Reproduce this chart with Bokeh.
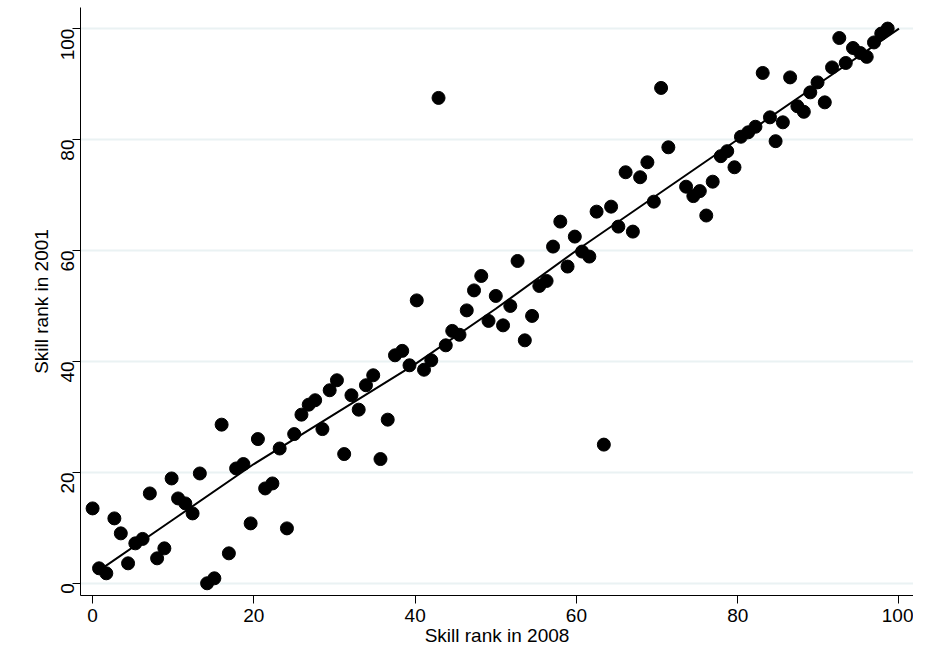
from bokeh.plotting import figure
from bokeh.models import Range1d, FixedTicker
from bokeh.embed import file_html
from bokeh.resources import INLINE
import math

rank_2008 = [0, 0.8, 1.7, 2.7, 3.5, 4.4, 5.3, 6.2, 7.1, 8, 8.9, 9.8, 10.6, 11.5, 12.4, 13.3,
             14.2, 15.1, 16, 16.9, 17.8, 18.7, 19.6, 20.5, 21.4, 22.3, 23.2, 24.1, 25, 25.9,
             26.8, 27.6, 28.5, 29.4, 30.3, 31.2, 32.1, 33, 33.9, 34.8, 35.7, 36.6, 37.5, 38.4,
             39.3, 40.2, 41.1, 42, 42.9, 43.8, 44.6, 45.5, 46.4, 47.3, 48.2, 49.1, 50, 50.9,
             51.8, 52.7, 53.6, 54.5, 55.4, 56.3, 57.1, 58, 58.9, 59.8, 60.7, 61.6, 62.5, 63.4,
             64.3, 65.2, 66.1, 67, 67.9, 68.8, 69.6, 70.5, 71.4, 73.6, 74.5, 75.3, 76.1, 76.9,
             77.9, 78.7, 79.6, 80.4, 81.3, 82.2, 83.1, 84, 84.7, 85.6, 86.5, 87.4, 88.2, 89,
             89.9, 90.8, 91.7, 92.6, 93.4, 94.3, 95.2, 96, 96.9, 97.8, 98.6]
rank_2001 = [13.5, 2.7, 1.8, 11.7, 9, 3.6, 7.2, 8, 16.2, 4.5, 6.3, 18.9, 15.3, 14.4, 12.6, 19.8,
             0, 0.9, 28.6, 5.4, 20.7, 21.5, 10.8, 26, 17.1, 18, 24.3, 9.9, 26.9, 30.4,
             32.2, 33, 27.8, 34.8, 36.6, 23.3, 33.9, 31.3, 35.7, 37.5, 22.4, 29.5, 41.1, 41.9,
             39.3, 51, 38.5, 40.2, 87.5, 42.9, 45.5, 44.8, 49.2, 52.8, 55.4, 47.3, 51.8, 46.5,
             50, 58.1, 43.8, 48.2, 53.6, 54.5, 60.7, 65.2, 57.1, 62.5, 59.8, 58.9, 67, 25,
             67.9, 64.3, 74.1, 63.4, 73.2, 75.9, 68.8, 89.3, 78.6, 71.5, 69.8, 70.7, 66.3, 72.4,
             77, 77.9, 75, 80.5, 81.3, 82.3, 92, 84, 79.7, 83.1, 91.2, 86, 85, 88.5,
             90.3, 86.7, 93, 98.3, 93.8, 96.5, 95.6, 94.9, 97.5, 99.1, 100]

fit_x = [1, 10, 20, 30, 40, 50, 60, 70, 80, 90, 100]
fit_y = [2.5, 11.5, 21.5, 30.5, 39.5, 49.5, 60, 70, 80, 90, 100]

ticks = [0, 20, 40, 60, 80, 100]

p = figure(width=913, height=648, output_backend="svg", toolbar_location=None,
           x_range=Range1d(-1.5, 101.8), y_range=Range1d(-2.2, 103.8),
           x_axis_label="Skill rank in 2008", y_axis_label="Skill rank in 2001",
           min_border_left=80, min_border_bottom=45, min_border_top=7, min_border_right=0)
p.outline_line_color = None
p.xgrid.grid_line_color = None
p.ygrid.grid_line_color = "#eaf2f3"
p.ygrid.grid_line_width = 2

for ax in (p.xaxis[0], p.yaxis[0]):
    ax.ticker = FixedTicker(ticks=ticks)
    ax.minor_tick_line_color = None
    ax.axis_line_color = "black"
    ax.major_tick_line_color = "black"
    ax.major_tick_out = 8
    ax.major_tick_in = 0
    ax.major_label_text_font = "Liberation Sans"
    ax.major_label_text_font_size = "19px"
    ax.major_label_text_color = "black"
    ax.axis_label_text_font = "Liberation Sans"
    ax.axis_label_text_font_size = "19px"
    ax.axis_label_text_font_style = "normal"
    ax.axis_label_text_color = "black"
    ax.axis_label_standoff = 0
p.yaxis.major_label_orientation = math.pi / 2

p.line(fit_x, fit_y, line_color="black", line_width=2)
p.scatter(rank_2008, rank_2001, size=13, color="black")

open("out.html", "w").write(file_html(p, INLINE))
